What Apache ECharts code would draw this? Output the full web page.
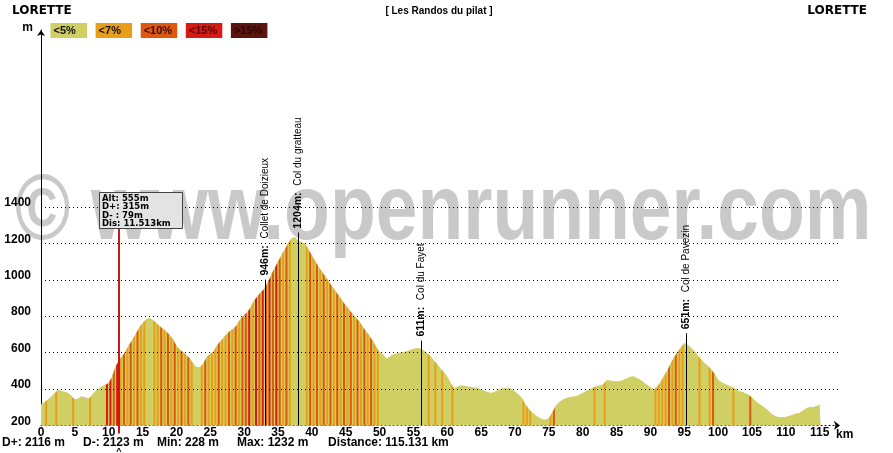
<!DOCTYPE html>
<html><head><meta charset="utf-8">
<script src="https://cdn.jsdelivr.net/npm/echarts@6/dist/echarts.min.js"></script>
<style>html,body{margin:0;padding:0;background:#fff}#c{width:893px;height:453px}</style>
</head><body><div id="c"></div>
<script>
// ---------- data ----------
const startName = 'LORETTE';
const endName = 'LORETTE';
const routeTitle = '[ Les Randos du pilat ]';

const distanceKm = [
  0,0.5,1,1.5,2,2.5,3,3.5,4,4.5,
  5,5.5,6,6.5,7,7.5,8,8.5,9,9.5,
  10,10.5,11,11.5,12,12.5,13,13.5,14,14.5,
  15,15.5,16,16.5,17,17.5,18,18.5,19,19.5,
  20,20.5,21,21.5,22,22.5,23,23.5,24,24.5,
  25,25.5,26,26.5,27,27.5,28,28.5,29,29.5,
  30,30.5,31,31.5,32,32.5,33,33.5,34,34.5,
  35,35.5,36,36.5,37,37.5,38,38.5,39,39.5,
  40,40.5,41,41.5,42,42.5,43,43.5,44,44.5,
  45,45.5,46,46.5,47,47.5,48,48.5,49,49.5,
  50,50.5,51,51.5,52,52.5,53,53.5,54,54.5,
  55,55.5,56,56.5,57,57.5,58,58.5,59,59.5,
  60,60.5,61,61.5,62,62.5,63,63.5,64,64.5,
  65,65.5,66,66.5,67,67.5,68,68.5,69,69.5,
  70,70.5,71,71.5,72,72.5,73,73.5,74,74.5,
  75,75.5,76,76.5,77,77.5,78,78.5,79,79.5,
  80,80.5,81,81.5,82,82.5,83,83.5,84,84.5,
  85,85.5,86,86.5,87,87.5,88,88.5,89,89.5,
  90,90.5,91,91.5,92,92.5,93,93.5,94,94.5,
  95,95.5,96,96.5,97,97.5,98,98.5,99,99.5,
  100,100.5,101,101.5,102,102.5,103,103.5,104,104.5,
  105,105.5,106,106.5,107,107.5,108,108.5,109,109.5,
  110,110.5,111,111.5,112,112.5,113,113.5,114,114.5,
  115,115.131
];
const elevationM = [
  315,325,340,355,375,393,388,383,375,360,
  340,345,358,352,345,362,385,398,412,422,
  432,465,520,555,580,605,640,668,700,735,
  760,780,787,778,762,745,730,715,695,670,
  635,615,600,585,565,535,518,518,540,575,
  592,605,638,662,680,705,720,732,755,785,
  805,822,850,885,910,932,950,985,1025,1062,
  1098,1132,1163,1200,1225,1232,1212,1205,1195,1165,
  1132,1100,1068,1042,1015,990,960,935,912,882,
  858,835,812,790,770,740,715,690,662,630,
  600,587,565,575,588,592,597,600,605,612,
  618,622,620,610,595,580,555,535,510,490,
  465,430,402,410,418,415,412,408,405,404,
  395,388,380,376,382,392,400,403,404,398,
  385,368,349,315,290,270,255,242,233,228,
  238,268,305,325,338,347,352,355,358,366,
  376,386,395,405,413,418,422,445,445,440,
  440,440,448,456,465,467,458,448,435,420,
  408,396,412,435,468,500,538,572,600,627,
  650,640,625,605,582,560,540,525,505,480,
  448,435,425,418,408,400,388,382,375,367,
  350,333,318,305,292,275,258,247,243,243,
  244,250,256,262,266,278,292,298,298,304,
  310,312
];
// slope class of each segment between consecutive profile points (0:<5% 1:<7% 2:<10% 3:<15% 4:>15%)
const slopeClasses =
  '0100100001' + '0000100003' + '3231212121' + '1001121212' + '1212100121' +
  '1121121212' + '2313232323' + '2121000012' + '1212121212' + '1212121211' +
  '0000000000' + '0000101010' + '0100000000' + '0000000000' + '0011100000' +
  '1200000000' + '0001001000' + '0000000000' + '0111121211' + '0000100120' +
  '0000100002' + '0000000000' + '0000000000' + '0';

const classLabels = ['<5%', '<7%', '<10%', '<15%', '>15%'];
const classColors = ['#CFCF63', '#E99E1A', '#DE580E', '#D61A14', '#5A160C'];
const classTextColors = ['#111', '#111', '#3a0c00', '#5a0000', '#2a0600'];

const colNames = ['Collet de Doizieux', 'Col du gratteau', 'Col du Fayet', 'Col de Pavezin'];
const colKm = [33.03, 37.95, 56.15, 95.2];
const colAlt = [946, 1204, 611, 651];

const cursorKm = 11.513;
const cursorAlt = 555;
const cursorLines = ['Alt: 555m', 'D+: 315m', 'D- : 79m', 'Dis: 11.513km'];

const yGridValues = [400, 600, 800, 1000, 1200, 1400];
const yLabelMax = 1400;
const xLabelMax = 115;

const statTexts = ['D+: 2116 m', 'D-: 2123 m', 'Min: 228 m', 'Max: 1232 m', 'Distance: 115.131 km'];
const watermarkText = '\u00A9 www.openrunner.com';

// ---------- chart ----------
const chart = echarts.init(document.getElementById('c'), null, {renderer: 'canvas'});
const FONT = '"Liberation Sans", Arial, sans-serif';
const VFONT = '"DejaVu Sans", Verdana, sans-serif';
const BASE_ELEV = 200;

const profileData = distanceKm.map((d, i) => [d, elevationM[i]]);
const stripeData = [];
for (let i = 0; i < distanceKm.length - 1; i++) {
  const c = +slopeClasses[i];
  if (c > 0) stripeData.push([distanceKm[i], distanceKm[i + 1], elevationM[i], elevationM[i + 1], c]);
}
const colData = colKm.map((k, i) => [k, colAlt[i], i]);

const statX = [2, 83, 157, 237, 328];
const graphics = [
  {type: 'text', x: 15, y: 214, scaleX: 0.815, z: -10, silent: true,
   style: {text: watermarkText, font: 'bold 92px ' + FONT, fill: '#c9c9c9', align: 'left', verticalAlign: 'middle'}},
  {type: 'text', x: 12, y: 11, style: {text: startName, font: 'bold 12px ' + VFONT, fill: '#000', align: 'left', verticalAlign: 'middle'}},
  {type: 'text', x: 867, y: 11, style: {text: endName, font: 'bold 12px ' + VFONT, fill: '#000', align: 'right', verticalAlign: 'middle'}},
  {type: 'text', x: 439, y: 11, style: {text: routeTitle, font: 'bold 10px ' + FONT, fill: '#000', align: 'center', verticalAlign: 'middle'}}
];
classLabels.forEach((lab, i) => {
  const x = 50.5 + 45.1 * i;
  graphics.push({type: 'rect', shape: {x: x, y: 23, width: 36.5, height: 15}, style: {fill: classColors[i]}});
  graphics.push({type: 'text', x: x + 3, y: 31, style: {text: lab, font: 'bold 11px ' + FONT, fill: classTextColors[i], align: 'left', verticalAlign: 'middle'}});
});
statTexts.forEach((t, i) => {
  graphics.push({type: 'text', x: statX[i], y: 443, style: {text: t, font: 'bold 12px ' + FONT, fill: '#000', align: 'left', verticalAlign: 'middle'}});
});

const option = {
  animation: false,
  backgroundColor: '#fff',
  textStyle: {fontFamily: FONT},
  grid: {left: 41, right: 53, top: 30, bottom: 27.6, containLabel: false, outerBoundsMode: 'none'},
  xAxis: {
    type: 'value', min: 0, max: 118, interval: 5,
    axisLine: {show: true, lineStyle: {color: '#000', width: 1, type: [1, 3]}, symbol: ['none', 'arrow'], symbolSize: [7, 6]},
    axisTick: {show: false}, splitLine: {show: false},
    axisLabel: {formatter: v => (v <= xLabelMax ? String(v) : ''), color: '#000', fontWeight: 'bold', fontSize: 12, fontFamily: FONT, margin: 1, showMaxLabel: false},
    name: 'km', nameLocation: 'end', nameGap: -4,
    nameTextStyle: {color: '#000', fontWeight: 'bold', fontSize: 12, fontFamily: FONT, align: 'left', verticalAlign: 'top', padding: [3, 0, 0, 0]}
  },
  yAxis: {
    type: 'value', min: 200, max: 2372, interval: 200,
    axisLine: {show: true, lineStyle: {color: '#000', width: 1}, symbol: ['none', 'arrow'], symbolSize: [6, 6]},
    axisTick: {show: false}, splitLine: {show: false},
    axisLabel: {formatter: v => (v <= yLabelMax ? String(v) : ''), color: '#000', fontWeight: 'bold', fontSize: 12, fontFamily: FONT, margin: 10,
      verticalAlign: 'bottom', lineHeight: 8, showMaxLabel: false},
    name: 'm', nameLocation: 'end', nameGap: 2,
    nameTextStyle: {color: '#000', fontWeight: 'bold', fontSize: 12, fontFamily: FONT, align: 'right', verticalAlign: 'middle', padding: [0, 8, 0, 0]}
  },
  graphic: graphics,
  series: [
    {
      type: 'line', data: [], z: 1, silent: true,
      markLine: {silent: true, symbol: ['none', 'none'], label: {show: false},
        lineStyle: {color: '#000', width: 1, type: [1, 3]},
        data: yGridValues.map(v => ({yAxis: v}))}
    },
    {
      type: 'line', data: profileData, z: 2, silent: true, showSymbol: false, symbol: 'none',
      lineStyle: {width: 1, color: classColors[0]},
      areaStyle: {color: classColors[0], opacity: 1, origin: 'start'}
    },
    {
      type: 'custom', z: 3, silent: true, data: stripeData,
      encode: {x: [0, 1], y: [2, 3]},
      renderItem: function (params, api) {
        const d0 = api.value(0), d1 = api.value(1), e0 = api.value(2), e1 = api.value(3), c = api.value(4);
        const p0 = api.coord([d0, e0]), p1 = api.coord([d1, e1]);
        const b = api.coord([d0, BASE_ELEV])[1];
        const span = p1[0] - p0[0];
        const w = span * 0.6, xm = (p0[0] + p1[0]) / 2;
        const xa = xm - w / 2, xb = xm + w / 2;
        const ya = p0[1] + (p1[1] - p0[1]) * ((xa - p0[0]) / span);
        const yb = p0[1] + (p1[1] - p0[1]) * ((xb - p0[0]) / span);
        return {type: 'polygon', shape: {points: [[xa, ya], [xb, yb], [xb, b], [xa, b]]}, style: {fill: classColors[c]}};
      }
    },
    {
      type: 'custom', z: 4, silent: true, data: colData,
      encode: {x: 0, y: 1},
      renderItem: function (params, api) {
        const k = api.value(0), alt = api.value(1), idx = api.value(2);
        const p = api.coord([k, alt]);
        const b = api.coord([k, BASE_ELEV])[1];
        const x = Math.round(p[0]) + 0.5;
        const top = p[1] - 10;
        return {type: 'group', children: [
          {type: 'line', shape: {x1: x, y1: b, x2: x, y2: top}, style: {stroke: '#000', lineWidth: 1}},
          {type: 'text', x: x, y: top - 4, rotation: Math.PI / 2,
           style: {text: '{b|' + alt + 'm:}  {n|' + colNames[idx] + '}',
             rich: {b: {font: 'bold 10.5px ' + FONT, fill: '#000'}, n: {font: '10px ' + FONT, fill: '#000'}},
             align: 'left', verticalAlign: 'middle'}}
        ]};
      }
    },
    {
      type: 'custom', z: 5, silent: true, data: [[cursorKm, cursorAlt]],
      encode: {x: 0, y: 1},
      renderItem: function (params, api) {
        const pb = api.coord([api.value(0), BASE_ELEV]);
        const x = Math.round(pb[0]);
        const boxL = x - 19.5, boxT = 192.5, boxW = 83, boxH = 36;
        const kids = [
          {type: 'line', shape: {x1: x, y1: boxT + boxH, x2: x, y2: pb[1] + 8}, style: {stroke: '#C81818', lineWidth: 2}},
          {type: 'rect', shape: {x: boxL, y: boxT, width: boxW, height: boxH}, style: {fill: '#E3E3E3', stroke: '#444', lineWidth: 1}},
          {type: 'text', x: x, y: pb[1] + 26, style: {text: '^', font: 'bold 9px ' + FONT, fill: '#000', align: 'center', verticalAlign: 'middle'}}
        ];
        cursorLines.forEach((t, i) => {
          kids.push({type: 'text', x: boxL + 2.5, y: boxT + 6 + 8.4 * i,
            style: {text: t, font: 'bold 8.5px ' + VFONT, fill: '#000', align: 'left', verticalAlign: 'middle'}});
        });
        return {type: 'group', children: kids};
      }
    }
  ]
};
chart.setOption(option);
</script>
</body></html>
